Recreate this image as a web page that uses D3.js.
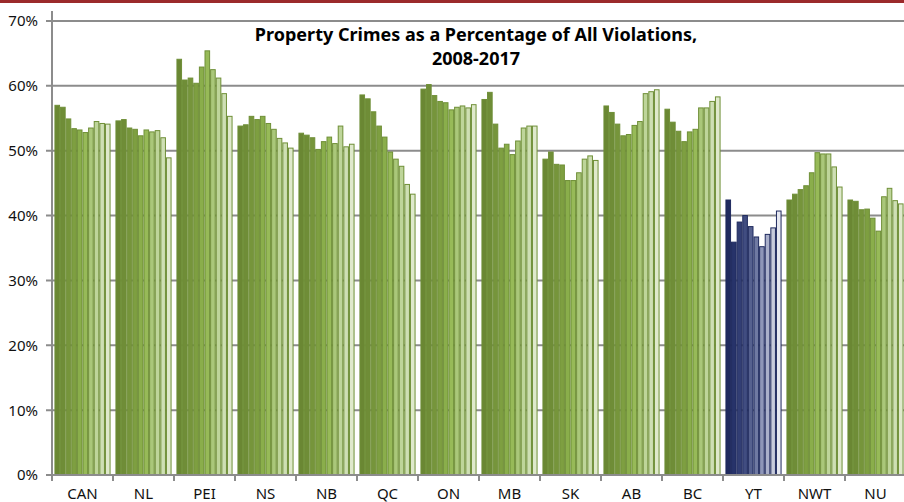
<!DOCTYPE html>
<html>
<head>
<meta charset="utf-8">
<script src="https://cdn.jsdelivr.net/npm/d3@7"></script>
<style>
  body { margin: 0; background: #fff; }
  svg { display: block; }
  .tick-label { font-family: "Liberation Sans Narrow", "Noto Sans", sans-serif; font-size: 15px; fill: #111; }
  .title { font-family: "Noto Sans", sans-serif; font-weight: bold; font-size: 18px; fill: #000; }
</style>
</head>
<body>
<svg id="chart"></svg>
<script>
var regions = ['CAN', 'NL', 'PEI', 'NS', 'NB', 'QC', 'ON', 'MB', 'SK', 'AB', 'BC', 'YT', 'NWT', 'NU'];
var years = ['2008', '2009', '2010', '2011', '2012', '2013', '2014', '2015', '2016', '2017'];
var yTicks = [0, 10, 20, 30, 40, 50, 60, 70];

// percent of all violations, one list per region, 2008..2017
var CAN = [57.0, 56.7, 54.9, 53.4, 53.2, 52.8, 53.5, 54.5, 54.2, 54.1];
var NL  = [54.6, 54.8, 53.5, 53.3, 52.3, 53.2, 52.9, 53.1, 52.0, 48.9];
var PEI = [64.1, 60.9, 61.2, 60.4, 62.9, 65.4, 62.5, 61.2, 58.8, 55.3];
var NS  = [53.8, 54.0, 55.3, 54.8, 55.3, 54.2, 53.3, 51.9, 51.2, 50.4];
var NB  = [52.7, 52.4, 52.0, 50.2, 51.4, 52.1, 51.1, 53.8, 50.6, 51.0];
var QC  = [58.6, 58.0, 56.0, 53.8, 52.1, 49.8, 48.7, 47.6, 44.8, 43.3];
var ON  = [59.5, 60.2, 58.5, 57.6, 57.4, 56.3, 56.7, 56.9, 56.6, 57.1];
var MB  = [57.9, 59.0, 54.1, 50.4, 51.0, 49.4, 51.5, 53.5, 53.8, 53.8];
var SK  = [48.7, 49.8, 47.9, 47.8, 45.4, 45.4, 46.6, 48.7, 49.2, 48.5];
var AB  = [56.9, 55.9, 54.1, 52.3, 52.5, 53.9, 54.5, 58.8, 59.1, 59.4];
var BC  = [56.4, 54.4, 53.0, 51.4, 52.9, 53.3, 56.6, 56.6, 57.6, 58.3];
var YT  = [42.4, 35.9, 39.0, 40.0, 38.3, 36.7, 35.2, 37.1, 38.1, 40.7];
var NWT = [42.4, 43.3, 44.0, 44.6, 46.6, 49.7, 49.5, 49.5, 47.5, 44.4];
var NU  = [42.4, 42.2, 40.9, 41.0, 39.6, 37.6, 42.9, 44.2, 42.3, 41.8];
var values = [CAN, NL, PEI, NS, NB, QC, ON, MB, SK, AB, BC, YT, NWT, NU];

var greens = ['#6a8733', '#6f8d37', '#76953b', '#7e9f41', '#8aae4b', '#97ba58', '#aac77a', '#bed59a', '#cedfb4', '#dfe9cc'];
var blues  = ['#1f2a5e', '#27336a', '#323e74', '#414d80', '#56618f', '#6f79a2', '#8e96b8', '#aab0ca', '#c7cbdb', '#e6e8f0'];

var W = 904, H = 502;
var plotLeft = 52, plotTop = 21, plotBottom = 475;
var svg = d3.select('#chart').attr('width', W).attr('height', H);

// red band at the top
svg.append('rect').attr('x', 0).attr('y', 0).attr('width', W).attr('height', 3).attr('fill', '#9b2a2b');

var x = d3.scaleBand().domain(regions).range([plotLeft, plotLeft + 61 * regions.length])
  .paddingInner(0.08).paddingOuter(0.04);
var xYear = d3.scaleBand().domain(years).range([0, x.bandwidth()]);
var y = d3.scaleLinear().domain([0, 70]).range([plotBottom, plotTop]);

// gridlines
svg.append('g').selectAll('line').data(yTicks.slice(1)).enter().append('line')
  .attr('x1', plotLeft - 6).attr('x2', W)
  .attr('y1', function(d){ return y(d); }).attr('y2', function(d){ return y(d); })
  .attr('stroke', '#8c8c8c').attr('stroke-width', 2);

// bars
var groups = svg.append('g').selectAll('g').data(regions).enter().append('g')
  .attr('transform', function(d){ return 'translate(' + x(d) + ',0)'; });

groups.each(function(r, gi){
  var pal = r === 'YT' ? blues : greens;
  var strokeCol = r === 'YT' ? '#1f2a5e' : '#6f8f37';
  d3.select(this).selectAll('rect').data(values[gi]).enter().append('rect')
    .attr('x', function(d, i){ return xYear(years[i]) + 0.5; })
    .attr('width', xYear.bandwidth() - 1)
    .attr('y', function(d){ return y(d); })
    .attr('height', function(d){ return plotBottom - y(d); })
    .attr('fill', function(d, i){ return pal[i]; })
    .attr('stroke', strokeCol)
    .attr('stroke-width', 1);
});

// y axis
svg.append('line').attr('x1', plotLeft).attr('x2', plotLeft).attr('y1', 11).attr('y2', plotBottom + 1)
  .attr('stroke', '#8c8c8c').attr('stroke-width', 2);
svg.append('line').attr('x1', plotLeft - 6).attr('x2', plotLeft).attr('y1', plotBottom).attr('y2', plotBottom)
  .attr('stroke', '#8c8c8c').attr('stroke-width', 2);
svg.append('g').selectAll('text').data(yTicks).enter().append('text')
  .attr('class', 'tick-label')
  .attr('x', 38).attr('y', function(d){ return y(d); }).attr('dy', '0.36em')
  .attr('text-anchor', 'end')
  .text(function(d){ return d + '%'; });

// x axis
svg.append('line').attr('x1', plotLeft).attr('x2', W).attr('y1', plotBottom).attr('y2', plotBottom)
  .attr('stroke', '#8c8c8c').attr('stroke-width', 2);
var step = x.step();
svg.append('g').selectAll('line').data(d3.range(regions.length + 1)).enter().append('line')
  .attr('x1', function(i){ return plotLeft + i * step; }).attr('x2', function(i){ return plotLeft + i * step; })
  .attr('y1', plotBottom).attr('y2', plotBottom + 6)
  .attr('stroke', '#8c8c8c').attr('stroke-width', 2);
svg.append('g').selectAll('text').data(regions).enter().append('text')
  .attr('class', 'tick-label')
  .attr('x', function(d){ return x(d) + x.bandwidth() / 2; })
  .attr('y', 499)
  .attr('text-anchor', 'middle')
  .text(function(d){ return d; });

// title
var title = svg.append('text').attr('class', 'title').attr('text-anchor', 'middle');
title.append('tspan').attr('x', 476).attr('y', 41).text('Property Crimes as a Percentage of All Violations,');
title.append('tspan').attr('x', 476).attr('y', 65).text('2008-2017');
</script>
</body>
</html>
